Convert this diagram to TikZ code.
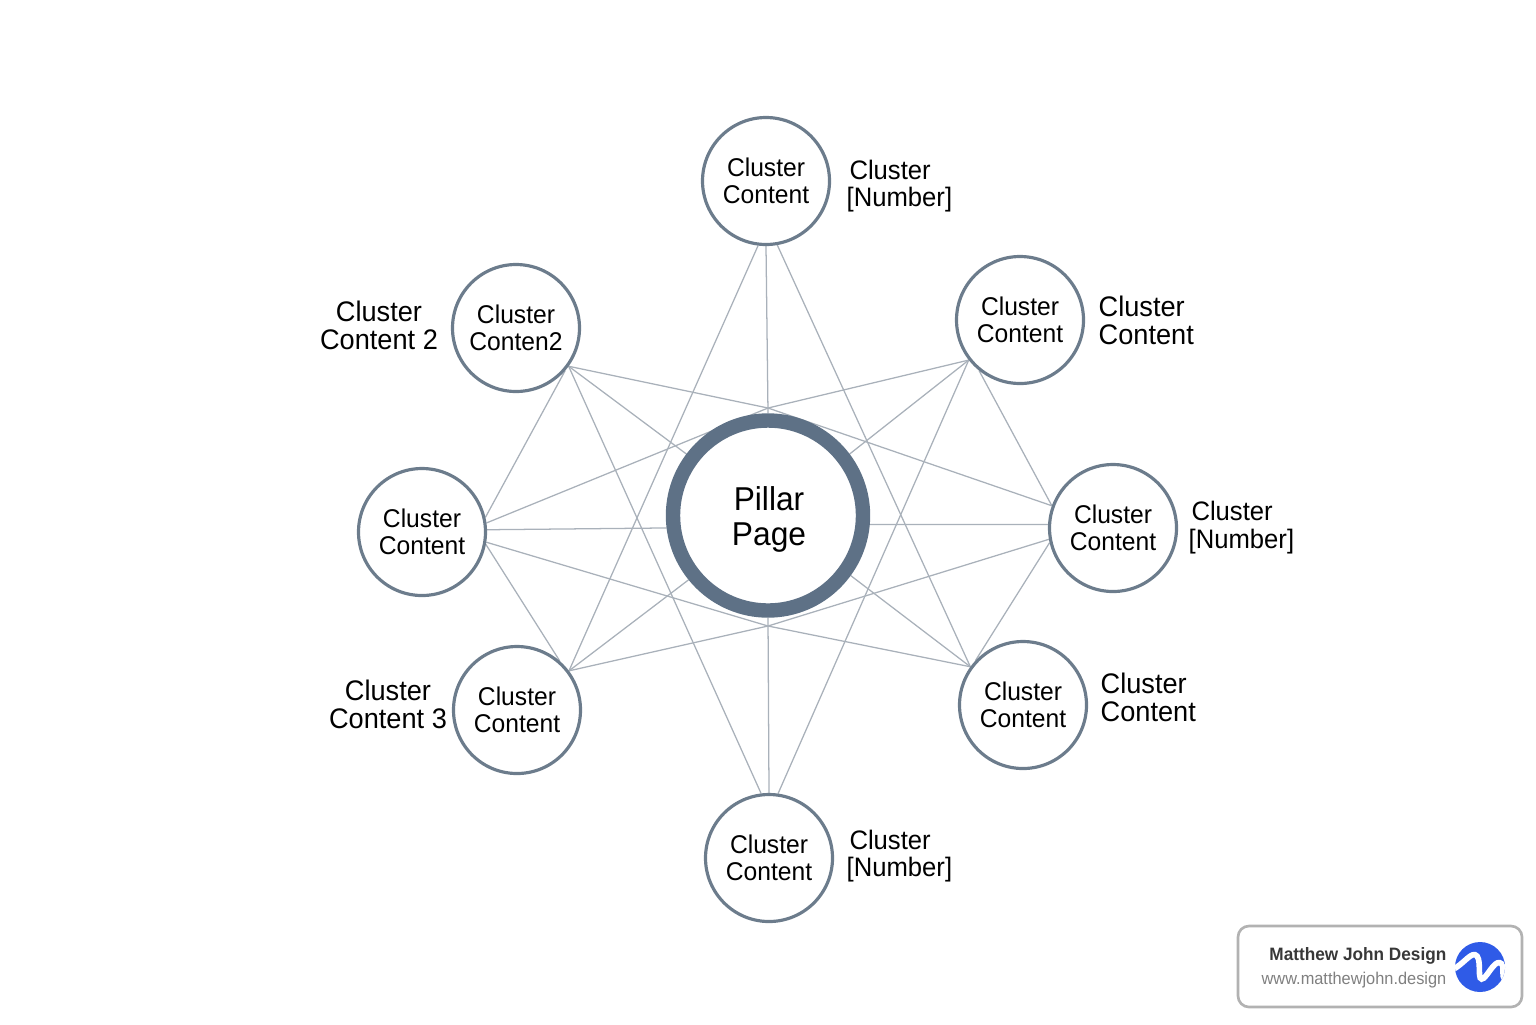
\documentclass[tikz,border=0pt]{standalone}
\usepackage{fontspec}
\setmainfont[FakeStretch=0.96]{Liberation Sans}
\usetikzlibrary{backgrounds}
\definecolor{ringblue}{HTML}{5E7186}
\definecolor{nodegrey}{HTML}{6C7C8C}
\definecolor{linkgrey}{HTML}{A9B1BA}
\definecolor{logoblue}{HTML}{2F5BE7}
\tikzset{
  cluster/.style={circle,draw=nodegrey,line width=0.9pt,fill=white,minimum size=1.27cm,inner sep=0pt,align=center,
    font=\fontsize{7.3}{7.8}\selectfont},
  pillar/.style={circle,draw=ringblue,line width=4.1pt,fill=white,minimum size=1.9cm,inner sep=0pt},
  pillartext/.style={inner sep=0pt,align=center,font=\fontsize{9.4}{10}\selectfont},
  sidelabel/.style={inner sep=0pt,font=\fontsize{7.6}{7.9}\selectfont},
  sidelarge/.style={inner sep=0pt,font=\fontsize{8.05}{7.9}\selectfont},
  link/.style={draw=linkgrey,line width=0.36pt},
}
\begin{document}
\begin{tikzpicture}
    \useasboundingbox (0,0) rectangle (15.36,-10.24);

    \coordinate (ringtop) at (7.68,-4.08);
    \coordinate (ringbot) at (7.68,-6.26);

    \node [cluster] (top) at (7.66,-1.81) {Cluster\\Content};
    \node [cluster] (tr) at (10.20,-3.20) {Cluster\\Content};
    \node [cluster] (rgt) at (11.13,-5.28) {Cluster\\Content};
    \node [cluster] (br) at (10.23,-7.05) {Cluster\\Content};
    \node [cluster] (bot) at (7.69,-8.58) {Cluster\\Content};
    \node [cluster] (bl) at (5.17,-7.10) {Cluster\\Content};
    \node [cluster] (lft) at (4.22,-5.32) {Cluster\\Content};
    \node [cluster] (tl) at (5.16,-3.28) {Cluster\\Conten2};
    \node [pillar] (pillar) at (7.68,-5.155) {};
    \node [pillartext] (pillarname) at (7.69,-5.195) {Pillar\\Page};

    % star lines
    \begin{scope}[on background layer]
    \draw [link] (top.-90) -- (pillar.90);
    \draw [link] (top.-97) -- (bl.37);
    \draw [link] (top.-80) -- (br.144);
    \draw [link] (tl.-36) -- (pillar.143);
    \draw [link] (tr.-142) -- (pillar.37);
    \draw [link] (bl.37) -- (pillar.219);
    \draw [link] (br.144) -- (pillar.-36);
    \draw [link] (tl.-41) -- (lft.13);
    \draw [link] (tl.-36) -- (bot.97);
    \draw [link] (tr.-142) -- (bot.82);
    \draw [link] (tr.-129) -- (rgt.160);
    \draw [link] (rgt.-167) -- (br.137);
    \draw [link] (lft.-11) -- (bl.49);
    \draw [link] (lft.2) -- (pillar.187);
    \draw [link] (rgt.177) -- (pillar.-5);
    \draw [link] (bot.90) -- (pillar.-90);
    \draw [link] (tl.-36) -- (ringtop) -- (rgt.160);
    \draw [link] (tr.-142) -- (ringtop) -- (lft.8);
    \draw [link] (lft.-9) -- (ringbot) -- (br.144);
    \draw [link] (bl.37) -- (ringbot) -- (rgt.-170);
    \end{scope}

    % labels beside the circles
    \node [sidelabel,anchor=west,align=left] (lbtop) at (8.46,-1.86) {\hspace{0.8pt}Cluster\\{}[Number]};
    \node [sidelarge,anchor=west,align=left] (lbtr) at (10.98,-3.20) {Cluster\\Content};
    \node [sidelabel,anchor=west,align=left] (lbrgt) at (11.88,-5.275) {\hspace{0.8pt}Cluster\\{}[Number]};
    \node [sidelarge,anchor=west,align=left] (lbbr) at (11.00,-6.97) {Cluster\\Content};
    \node [sidelabel,anchor=west,align=left] (lbbot) at (8.46,-8.56) {\hspace{0.8pt}Cluster\\{}[Number]};
    \node [sidelarge,align=center] (lbtl) at (3.79,-3.25) {Cluster\\Content 2};
    \node [sidelarge,align=center] (lbbl) at (3.88,-7.04) {Cluster\\Content 3};

    % badge
    \draw [draw=black!30,line width=0.75pt,fill=white,rounded corners=0.11cm] (12.38,-9.26) rectangle (15.22,-10.07);
    \node [anchor=east,inner sep=0pt,text=black!78,font=\fontsize{5.1}{6}\selectfont\bfseries] (brand) at (14.47,-9.56) {Matthew John Design};
    \node [anchor=east,inner sep=0pt,text=black!50,font=\fontsize{4.85}{6}\selectfont] (site) at (14.47,-9.80) {www.matthewjohn.design};
    \fill [logoblue] (14.80,-9.67) circle (0.25);
    \begin{scope}
    \clip (14.80,-9.67) circle (0.25);
    \draw [white,line width=1.6pt] (14.52,-9.70) .. controls (14.64,-9.64) and (14.72,-9.50) .. (14.77,-9.56) .. controls (14.82,-9.62) and (14.76,-9.84) .. (14.84,-9.78) .. controls (14.90,-9.72) and (14.96,-9.58) .. (15.02,-9.64) .. controls (15.05,-9.68) and (15.00,-9.76) .. (15.06,-9.80);
    \end{scope}
\end{tikzpicture}
\end{document}
